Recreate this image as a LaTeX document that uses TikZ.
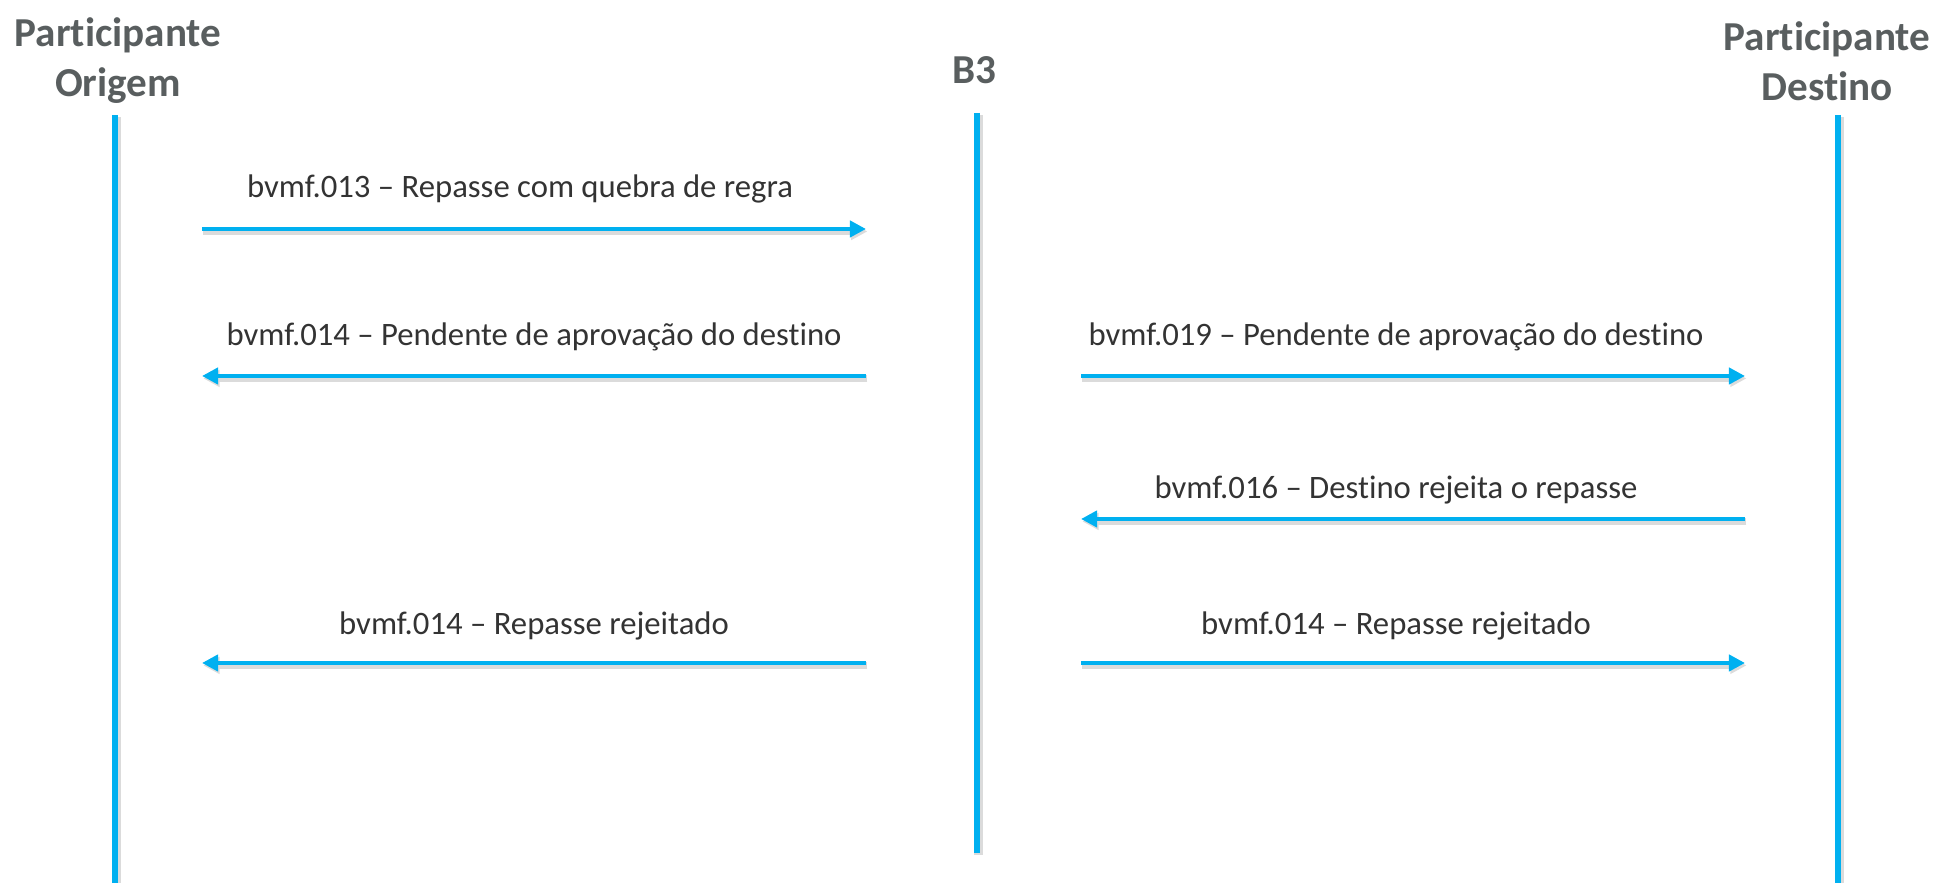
\documentclass[tikz,border=0pt]{standalone}
\usepackage{fontspec}
\setmainfont{Carlito}[Ligatures=NoCommon]
\usetikzlibrary{arrows.meta}
\definecolor{lineblue}{HTML}{00B0F0}
\definecolor{headgray}{HTML}{595E5F}
\definecolor{msgtext}{HTML}{333333}
\begin{document}
\begin{tikzpicture}[x=0.01cm,y=-0.01cm,
  head/.style={font=\fontsize{11.7}{14.3}\selectfont\bfseries,text=headgray,align=center,inner sep=0pt,anchor=base},
  msglabel/.style={font=\fontsize{9.3}{11}\selectfont,text=msgtext,inner sep=0pt,anchor=base},
  lifeline/.style={lineblue,line width=1.9pt,
    preaction={draw,black!14,line width=2.4pt,transform canvas={xshift=0.4pt,yshift=-0.6pt}}},
  msg/.style={lineblue,line width=1.4pt,-{Triangle[length=4.6pt,width=4.6pt]},
    preaction={draw,black!14,line width=1.9pt,transform canvas={xshift=0.4pt,yshift=-0.7pt}}}]
\useasboundingbox (0,0) rectangle (1939,883);
%\draw[step=100,gray,very thin,dashed] (0,0) grid (1939,883);
\node[head] (orig) at (118,97) {Participante\\Origem};
\node[head] (bthree) at (974,84) {B3};
\node[head] (dest) at (1827,101) {Participante\\Destino};
\coordinate (orig top) at (115,115);
\coordinate (orig bot) at (115,883);
\coordinate (bthree top) at (977,113);
\coordinate (bthree bot) at (977,853);
\coordinate (dest top) at (1838,115);
\coordinate (dest bot) at (1838,883);
\draw[lifeline] (orig top) -- (orig bot);
\draw[lifeline] (bthree top) -- (bthree bot);
\draw[lifeline] (dest top) -- (dest bot);
\coordinate (ol1) at (202,229);
\coordinate (br1) at (866,229);
\coordinate (ol2) at (202,376);
\coordinate (br2) at (866,376);
\coordinate (bl2) at (1081,376);
\coordinate (dr2) at (1745,376);
\coordinate (bl3) at (1081,519);
\coordinate (dr3) at (1745,519);
\coordinate (ol4) at (202,663);
\coordinate (br4) at (866,663);
\coordinate (bl4) at (1081,663);
\coordinate (dr4) at (1745,663);
\draw[msg] (ol1) -- (br1);
\draw[msg] (br2) -- (ol2);
\draw[msg] (bl2) -- (dr2);
\draw[msg] (dr3) -- (bl3);
\draw[msg] (br4) -- (ol4);
\draw[msg] (bl4) -- (dr4);
\node[msglabel] (quebra) at (520,198) {bvmf.013 – Repasse com quebra de regra};
\node[msglabel] (pendorig) at (534,346) {bvmf.014 – Pendente de aprovação do destino};
\node[msglabel] (penddest) at (1396,346) {bvmf.019 – Pendente de aprovação do destino};
\node[msglabel] (rejeita) at (1396,499) {bvmf.016 – Destino rejeita o repasse};
\node[msglabel] (rejorig) at (534,635) {bvmf.014 – Repasse rejeitado};
\node[msglabel] (rejdest) at (1396,635) {bvmf.014 – Repasse rejeitado};
\end{tikzpicture}
\end{document}
